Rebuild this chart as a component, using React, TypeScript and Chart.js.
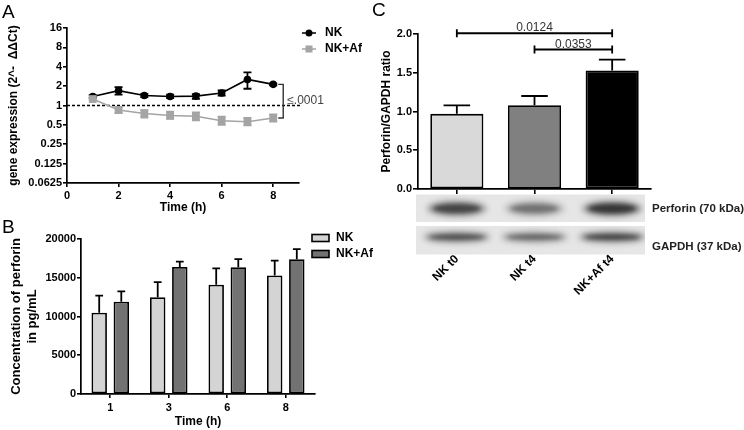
import React, { useEffect, useRef } from "react";
import { Chart, registerables } from "chart.js";
Chart.register(...registerables);

const FONT = "'Liberation Sans', Arial, Helvetica, sans-serif";

// ---------- Panel A data ----------
const timeA = [1, 2, 3, 4, 5, 6, 7, 8];
const nkA = [1.38, 1.7, 1.43, 1.38, 1.4, 1.56, 2.54, 2.13];
const nkAUp = [1.45, 1.93, 1.52, 1.47, 1.5, 1.71, 3.27, 2.2];
const nkALow = [1.31, 1.48, 1.35, 1.3, 1.27, 1.42, 1.82, 2.06];
const afA = [1.26, 0.85, 0.75, 0.7, 0.68, 0.58, 0.56, 0.64];
const afAUp = [1.32, 0.94, 0.85, 0.8, 0.78, 0.67, 0.64, 0.73];
const afALow = [1.2, 0.76, 0.65, 0.62, 0.59, 0.5, 0.49, 0.56];
const yTicksA = [0.0625, 0.125, 0.25, 0.5, 1, 2, 4, 8, 16];
const xTicksA = [0, 2, 4, 6, 8];
const pLabelA = "≤.0001";

// ---------- Panel B data ----------
const timeB = ["1", "3", "6", "8"];
const nkB = [10500, 12500, 14100, 15300];
const nkBErr = [2200, 1930, 2120, 1900];
const afB = [11900, 16400, 16350, 17400];
const afBErr = [1330, 690, 1050, 1300];

// ---------- Panel C data ----------
const groupsC = ["NK t0", "NK t4", "NK+Af t4"];
const ratioC = [0.97, 1.08, 1.53];
const ratioCErr = [0.11, 0.12, 0.14];
const sigFrom = [0, 1];
const sigTo = [2, 2];
const sigLevel = [2.01, 1.8];
const sigLabel = ["0.0124", "0.0353"];
const perforinBand = [0.8, 0.5, 0.92];
const gapdhBand = [0.78, 0.62, 0.85];
const blotLabels = ["Perforin (70 kDa)", "GAPDH (37 kDa)"];

const GRAY_A = "#a4a4a4";
const BAR_LIGHT = "#d4d4d4";
const BAR_DARK = "#727272";
const C_COLORS = ["#d9d9d9", "#808080", "#000000"];

const tickFont = { family: FONT, size: 11, weight: "bold" as const };
const titleFont = { family: FONT, size: 12, weight: "bold" as const };

const axisCommon = {
  grid: { drawOnChartArea: false, drawTicks: true, tickLength: 4, color: "#000", lineWidth: 1.6, offset: false },
  border: { color: "#000", width: 1.7 },
};

function makeA(canvas: HTMLCanvasElement) {
  const plugin = {
    id: "decorA",
    beforeDatasetsDraw(chart: any) {
      const { ctx, chartArea: a, scales } = chart;
      const y = scales.y;
      const y1 = y.getPixelForValue(1);
      ctx.save();
      ctx.strokeStyle = "#000";
      ctx.lineWidth = 1.3;
      ctx.setLineDash([3, 2]);
      ctx.beginPath();
      ctx.moveTo(a.left, y1);
      ctx.lineTo(a.right + 2, y1);
      ctx.stroke();
      ctx.setLineDash([]);
      const sets: any[] = [
        [nkAUp, nkALow, "#000"],
        [afAUp, afALow, GRAY_A],
      ];
      sets.forEach(([up, low, col], di) => {
        const meta = chart.getDatasetMeta(di);
        ctx.strokeStyle = col;
        ctx.lineWidth = 1.8;
        meta.data.forEach((pt: any, j: number) => {
          const px = pt.x;
          const yu = y.getPixelForValue(up[j]);
          const yl = y.getPixelForValue(low[j]);
          ctx.beginPath();
          ctx.moveTo(px, yu);
          ctx.lineTo(px, yl);
          ctx.moveTo(px - 4, yu);
          ctx.lineTo(px + 4, yu);
          ctx.moveTo(px - 4, yl);
          ctx.lineTo(px + 4, yl);
          ctx.stroke();
        });
      });
      ctx.restore();
    },
    afterDraw(chart: any) {
      const { ctx, scales } = chart;
      const { x, y } = scales;
      ctx.save();
      const bx = x.getPixelForValue(timeA[timeA.length - 1]) + 10;
      const yt = y.getPixelForValue(nkA[nkA.length - 1]);
      const yb = y.getPixelForValue(afA[afA.length - 1]);
      ctx.strokeStyle = "#333";
      ctx.lineWidth = 1.4;
      ctx.beginPath();
      ctx.moveTo(bx - 5, yt);
      ctx.lineTo(bx, yt);
      ctx.lineTo(bx, yb);
      ctx.lineTo(bx - 5, yb);
      ctx.stroke();
      ctx.fillStyle = "#444";
      ctx.font = `12px ${FONT}`;
      ctx.textBaseline = "alphabetic";
      ctx.textAlign = "left";
      ctx.fillText(pLabelA, bx + 4, y.getPixelForValue(1) - 2);
      const ds = chart.data.datasets;
      const rowsY = [33, 49];
      ds.forEach((d: any, i: number) => {
        const ly = rowsY[i];
        ctx.strokeStyle = d.borderColor;
        ctx.fillStyle = d.borderColor;
        ctx.lineWidth = 1.5;
        ctx.beginPath();
        ctx.moveTo(302, ly);
        ctx.lineTo(316, ly);
        ctx.stroke();
        if (d.pointStyle === "rect") ctx.fillRect(305.5, ly - 3.5, 7, 7);
        else {
          ctx.beginPath();
          ctx.arc(309, ly, 3.5, 0, Math.PI * 2);
          ctx.fill();
        }
        ctx.fillStyle = "#000";
        ctx.font = `bold 12px ${FONT}`;
        ctx.textBaseline = "middle";
        ctx.fillText(d.label, 325, ly);
      });
      ctx.restore();
    },
  };
  return new Chart(canvas, {
    type: "line",
    data: {
      datasets: [
        {
          label: "NK",
          data: timeA.map((t, i) => ({ x: t, y: nkA[i] })),
          borderColor: "#000",
          backgroundColor: "#000",
          borderWidth: 1.6,
          pointRadius: 3.8,
          pointStyle: "circle",
          pointBorderWidth: 0,
          order: 1,
        },
        {
          label: "NK+Af",
          data: timeA.map((t, i) => ({ x: t, y: afA[i] })),
          borderColor: GRAY_A,
          backgroundColor: GRAY_A,
          borderWidth: 1.6,
          pointRadius: 5.5,
          pointStyle: "rect",
          pointBorderWidth: 0,
          order: 0,
        },
      ],
    },
    options: {
      responsive: false,
      animation: false,
      events: [],
      layout: { padding: { left: 0, top: 28, right: 81, bottom: 0 } },
      plugins: { legend: { display: false }, tooltip: { enabled: false } },
      scales: {
        x: {
          type: "linear",
          min: 0,
          max: 9,
          ...axisCommon,
          afterBuildTicks: (s: any) => {
            s.ticks = xTicksA.map((v) => ({ value: v }));
          },
          afterFit: (s: any) => {
            s.height = 32;
          },
          ticks: { font: tickFont, color: "#000", padding: 2, autoSkip: false, maxRotation: 0 },
          title: { display: true, text: "Time (h)", font: titleFont, color: "#000", padding: { top: 0, bottom: 0 } },
        },
        y: {
          type: "logarithmic",
          min: 0.0625,
          max: 16,
          ...axisCommon,
          afterBuildTicks: (s: any) => {
            s.ticks = yTicksA.map((v) => ({ value: v }));
          },
          afterFit: (s: any) => {
            s.width = 67;
          },
          ticks: { font: tickFont, color: "#000", padding: 1, autoSkip: false, callback: (v: any) => String(v) },
          title: {
            display: true,
            text: "gene expression (2^-  ΔΔCt)",
            font: titleFont,
            color: "#000",
            padding: { top: 6, bottom: 0 },
          },
        },
      },
    },
    plugins: [plugin],
  } as any);
}

function drawUpErr(chart: any, di: number, errs: number[]) {
  const { ctx, scales } = chart;
  const y = scales.y;
  const meta = chart.getDatasetMeta(di);
  const vals = chart.data.datasets[di].data;
  ctx.save();
  ctx.strokeStyle = "#000";
  ctx.lineWidth = 1.8;
  meta.data.forEach((bar: any, j: number) => {
    const top = y.getPixelForValue(vals[j] + errs[j]);
    const half = bar.width / 4;
    ctx.beginPath();
    ctx.moveTo(bar.x, bar.y);
    ctx.lineTo(bar.x, top);
    ctx.moveTo(bar.x - half, top);
    ctx.lineTo(bar.x + half, top);
    ctx.stroke();
  });
  ctx.restore();
}

function makeB(canvas: HTMLCanvasElement) {
  const plugin = {
    id: "decorB",
    afterDatasetsDraw(chart: any) {
      drawUpErr(chart, 0, nkBErr);
      drawUpErr(chart, 1, afBErr);
    },
    afterDraw(chart: any) {
      const { ctx } = chart;
      ctx.save();
      const rows = [23, 39];
      chart.data.datasets.forEach((d: any, i: number) => {
        const ly = rows[i];
        ctx.fillStyle = d.backgroundColor;
        ctx.fillRect(312, ly - 3.5, 17, 7);
        ctx.strokeStyle = "#000";
        ctx.lineWidth = 1.6;
        ctx.strokeRect(312, ly - 3.5, 17, 7);
        ctx.fillStyle = "#000";
        ctx.font = `bold 12px ${FONT}`;
        ctx.textBaseline = "middle";
        ctx.textAlign = "left";
        ctx.fillText(d.label, 336, ly);
      });
      ctx.restore();
    },
  };
  return new Chart(canvas, {
    type: "bar",
    data: {
      labels: timeB,
      datasets: [
        { label: "NK", data: nkB, backgroundColor: BAR_LIGHT, borderColor: "#000", borderWidth: 1.8, borderSkipped: false },
        { label: "NK+Af", data: afB, backgroundColor: BAR_DARK, borderColor: "#000", borderWidth: 1.8, borderSkipped: false },
      ],
    },
    options: {
      responsive: false,
      animation: false,
      events: [],
      categoryPercentage: 0.755,
      barPercentage: 0.7,
      layout: { padding: { left: 0, top: 24, right: 65, bottom: 1 } },
      plugins: { legend: { display: false }, tooltip: { enabled: false } },
      scales: {
        x: {
          ...axisCommon,
          afterFit: (s: any) => {
            s.height = 35;
          },
          ticks: { font: tickFont, color: "#000", padding: 3, autoSkip: false, maxRotation: 0 },
          title: { display: true, text: "Time (h)", font: titleFont, color: "#000", padding: { top: 0, bottom: 0 } },
        },
        y: {
          min: 0,
          max: 20000,
          ...axisCommon,
          afterFit: (s: any) => {
            s.width = 81;
          },
          ticks: { stepSize: 5000, font: tickFont, color: "#000", padding: 1, callback: (v: any) => String(v) },
          title: {
            display: true,
            text: ["Concentration of perforin", "in pg/mL"],
            font: { family: FONT, size: 13, weight: "bold", lineHeight: 1.25 },
            color: "#000",
            padding: { top: 8, bottom: 0 },
          },
        },
      },
    },
    plugins: [plugin],
  } as any);
}

function makeC(canvas: HTMLCanvasElement) {
  const plugin = {
    id: "decorC",
    afterDatasetsDraw(chart: any) {
      drawUpErr(chart, 0, ratioCErr);
      const { ctx, scales } = chart;
      const { x, y } = scales;
      ctx.save();
      ctx.strokeStyle = "#000";
      ctx.lineWidth = 1.8;
      ctx.fillStyle = "#333";
      ctx.font = `12px ${FONT}`;
      ctx.textAlign = "center";
      ctx.textBaseline = "alphabetic";
      sigFrom.forEach((f, k) => {
        const x1 = x.getPixelForValue(f);
        const x2 = x.getPixelForValue(sigTo[k]);
        const yy = y.getPixelForValue(sigLevel[k]);
        ctx.beginPath();
        ctx.moveTo(x1, yy);
        ctx.lineTo(x2, yy);
        ctx.moveTo(x1, yy - 4);
        ctx.lineTo(x1, yy + 4);
        ctx.moveTo(x2, yy - 4);
        ctx.lineTo(x2, yy + 4);
        ctx.stroke();
        ctx.fillText(sigLabel[k], (x1 + x2) / 2, yy - 2);
      });
      ctx.restore();
    },
    afterDraw(chart: any) {
      const { ctx, chartArea: a, scales } = chart;
      const x = scales.x;
      const left = a.left - 2;
      const right = a.right - 6;
      const strips = [
        { top: a.bottom + 5.5, h: 27.5, band: perforinBand, bh: 11, wf: 0.76, cy: 14 },
        { top: a.bottom + 37, h: 28.5, band: gapdhBand, bh: 7, wf: 0.86, cy: 11 },
      ];
      const step = x.getPixelForValue(1) - x.getPixelForValue(0);
      ctx.save();
      strips.forEach((s) => {
        ctx.save();
        ctx.fillStyle = "#e6e6e6";
        ctx.fillRect(left, s.top, right - left, s.h);
        ctx.beginPath();
        ctx.rect(left, s.top, right - left, s.h);
        ctx.clip();
        s.band.forEach((v, i) => {
          const cx = x.getPixelForValue(i);
          const w = step * s.wf;
          const cy = s.top + s.cy;
          ctx.filter = "blur(3px)";
          ctx.fillStyle = `rgba(60,60,60,${v * 0.7})`;
          ctx.beginPath();
          ctx.ellipse(cx, cy, w / 2, s.bh / 2 + 2, 0, 0, Math.PI * 2);
          ctx.fill();
          ctx.filter = "blur(2px)";
          ctx.fillStyle = `rgba(30,30,30,${v * 0.8})`;
          ctx.beginPath();
          ctx.ellipse(cx, cy, w / 2 - 6, s.bh / 2 - 1, 0, 0, Math.PI * 2);
          ctx.fill();
        });
        ctx.restore();
      });
      ctx.fillStyle = "#222";
      ctx.font = `bold 11.5px ${FONT}`;
      ctx.textAlign = "left";
      ctx.textBaseline = "middle";
      ctx.fillText(blotLabels[0], a.right + 1, strips[0].top + 14);
      ctx.fillText(blotLabels[1], a.right + 1, strips[1].top + 21);
      ctx.restore();
    },
  };
  return new Chart(canvas, {
    type: "bar",
    data: {
      labels: groupsC,
      datasets: [
        {
          label: "Perforin/GAPDH",
          data: ratioC,
          backgroundColor: C_COLORS,
          borderColor: "#000",
          borderWidth: 1.8,
          borderSkipped: false,
        },
      ],
    },
    options: {
      responsive: false,
      animation: false,
      events: [],
      categoryPercentage: 0.76,
      barPercentage: 0.9,
      layout: { padding: { left: 0, top: 34, right: 93, bottom: 0 } },
      plugins: { legend: { display: false }, tooltip: { enabled: false } },
      scales: {
        x: {
          ...axisCommon,
          grid: { ...axisCommon.grid, tickLength: 5 },
          afterFit: (s: any) => {
            s.height = 141;
          },
          ticks: {
            font: { family: FONT, size: 12, weight: "bold" },
            color: "#000",
            padding: 58,
            autoSkip: false,
            minRotation: 45,
            maxRotation: 45,
          },
        },
        y: {
          min: 0,
          max: 2,
          ...axisCommon,
          grid: { ...axisCommon.grid, tickLength: 5 },
          afterFit: (s: any) => {
            s.width = 58;
          },
          ticks: { stepSize: 0.5, font: tickFont, color: "#000", padding: 1, callback: (v: any) => Number(v).toFixed(1) },
          title: {
            display: true,
            text: "Perforin/GAPDH ratio",
            font: titleFont,
            color: "#000",
            padding: { top: 19, bottom: 0 },
          },
        },
      },
    },
    plugins: [plugin],
  } as any);
}

const letterStyle = (left: number, top: number): React.CSSProperties => ({
  position: "absolute",
  left,
  top,
  font: `19px ${FONT}`,
  lineHeight: "19px",
  color: "#000",
});

export default function App() {
  const refA = useRef<HTMLCanvasElement>(null);
  const refB = useRef<HTMLCanvasElement>(null);
  const refC = useRef<HTMLCanvasElement>(null);
  useEffect(() => {
    Chart.defaults.font.family = FONT;
    const charts = [makeA(refA.current!), makeB(refB.current!), makeC(refC.current!)];
    return () => charts.forEach((c) => c.destroy());
  }, []);
  return (
    <div style={{ position: "absolute", left: 0, top: 0, width: 744, height: 430, background: "#fff", overflow: "hidden" }}>
      <canvas ref={refA} width={380} height={215} style={{ position: "absolute", left: 0, top: 0 }} />
      <canvas ref={refB} width={380} height={215} style={{ position: "absolute", left: 0, top: 215 }} />
      <canvas ref={refC} width={384} height={330} style={{ position: "absolute", left: 360, top: 0 }} />
      <div style={letterStyle(2, 2)}>A</div>
      <div style={letterStyle(2, 217)}>B</div>
      <div style={letterStyle(372, 0)}>C</div>
    </div>
  );
}
